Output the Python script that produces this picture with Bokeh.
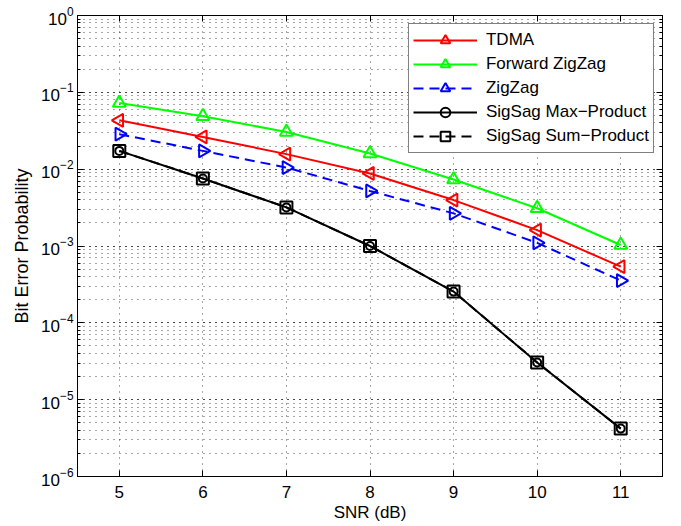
import math
from bokeh.plotting import figure
from bokeh.models import LogAxis, LinearAxis, FixedTicker, LogTicker, Range1d
from bokeh.embed import file_html
from bokeh.resources import INLINE

snr = [5, 6, 7, 8, 9, 10, 11]
tdma = [0.0433, 0.0263, 0.0157, 0.0088, 0.00396, 0.00161, 0.000538]
forward_zigzag = [0.0726, 0.0488, 0.0305, 0.016, 0.00735, 0.0031, 0.00103]
zigzag = [0.0285, 0.0173, 0.0105, 0.0052, 0.00266, 0.0011, 0.000355]
sigsag_max = [0.0173, 0.00757, 0.00318, 0.001, 0.000255, 3.05e-5, 4.2e-6]
sigsag_sum = [0.0173, 0.00757, 0.00318, 0.001, 0.000255, 3.05e-5, 4.2e-6]
x_ticks = [5, 6, 7, 8, 9, 10, 11]

FONT = "Liberation Sans"

p = figure(width=670, height=524, x_range=Range1d(4.5, 11.5), y_range=Range1d(1e-6, 1),
           y_axis_type="log", output_backend="svg", toolbar_location=None,
           min_border_left=77, min_border_right=8, min_border_top=15, min_border_bottom=47,
           background_fill_color="white", border_fill_color="white")

p.outline_line_color = "black"
p.outline_line_width = 1

# grids
p.xgrid.ticker = FixedTicker(ticks=x_ticks)
p.xgrid.grid_line_color = "black"
p.xgrid.grid_line_dash = "1 5"
p.xgrid.grid_line_alpha = 0.7
p.ygrid.grid_line_color = "black"
p.ygrid.grid_line_dash = "1 5"
p.ygrid.grid_line_alpha = 0.7
p.ygrid.minor_grid_line_color = "black"
p.ygrid.minor_grid_line_dash = "1 5"
p.ygrid.minor_grid_line_alpha = 0.7

def style_axis(ax, labels=True):
    ax.major_tick_in = 6
    ax.major_tick_out = 0
    ax.minor_tick_in = 3
    ax.minor_tick_out = 0
    ax.axis_line_color = "black"
    ax.major_tick_line_color = "black"
    ax.minor_tick_line_color = "black"
    ax.major_label_text_font = FONT
    ax.major_label_text_font_size = "17px"
    ax.major_label_text_color = "black"
    ax.axis_label_text_font = FONT
    ax.axis_label_text_font_size = "17px"
    ax.axis_label_text_font_style = "normal"
    ax.axis_label_text_color = "black"
    if not labels:
        ax.major_label_text_font_size = "1px"
        ax.major_label_text_alpha = 0
        ax.major_label_standoff = 0

xa = p.xaxis[0]
xa.ticker = FixedTicker(ticks=x_ticks)
xa.axis_label = "SNR (dB)"
xa.axis_label_standoff = 2
xa.major_label_standoff = 9
style_axis(xa)

ya = p.yaxis[0]
ya.ticker = LogTicker(num_minor_ticks=10)
ya.axis_label = "Bit Error Probability"
ya.major_label_standoff = 4
ya.axis_label_standoff = 6
style_axis(ya)
ya.axis_label_text_font_size = "18px"

top = LinearAxis(ticker=FixedTicker(ticks=x_ticks))
style_axis(top, labels=False)
p.add_layout(top, "above")
right = LogAxis(ticker=LogTicker(num_minor_ticks=10))
style_axis(right, labels=False)
p.add_layout(right, "right")

LW = 2
# TDMA
p.line(snr, tdma, color="red", line_width=LW, legend_label="TDMA")
p.scatter(snr, tdma, marker="triangle", angle=math.pi / 2, size=13, line_color="red",
          fill_color=None, line_width=LW, legend_label="TDMA")
# Forward ZigZag
p.line(snr, forward_zigzag, color="#00ff00", line_width=LW, legend_label="Forward ZigZag")
p.scatter(snr, forward_zigzag, marker="triangle", size=13, line_color="#00ff00",
          fill_color=None, line_width=LW, legend_label="Forward ZigZag")
# ZigZag
p.line(snr, zigzag, color="blue", line_width=LW, line_dash="10 6", legend_label="ZigZag")
p.scatter(snr, zigzag, marker="triangle", angle=-math.pi / 2, size=13, line_color="blue",
          fill_color=None, line_width=LW, legend_label="ZigZag")
# SigSag Max-Product
p.line(snr, sigsag_max, color="black", line_width=LW, legend_label="SigSag Max\u2212Product")
p.scatter(snr, sigsag_max, marker="circle", size=8, line_color="black",
          fill_color=None, line_width=LW, legend_label="SigSag Max\u2212Product")
# SigSag Sum-Product
p.line(snr, sigsag_sum, color="black", line_width=LW, line_dash="10 6",
       legend_label="SigSag Sum\u2212Product")
p.scatter(snr, sigsag_sum, marker="square", size=12, line_color="black",
          fill_color=None, line_width=LW, legend_label="SigSag Sum\u2212Product")

lg = p.legend[0]
lg.location = "top_right"
lg.margin = 8
lg.padding = 4
lg.spacing = 0
lg.glyph_width = 64
lg.glyph_height = 24
lg.label_height = 24
lg.label_standoff = 9
lg.label_text_font = FONT
lg.label_text_font_size = "17px"
lg.label_text_color = "black"
lg.border_line_color = "black"
lg.border_line_width = 1
lg.background_fill_color = "white"
lg.background_fill_alpha = 1

open("out.html", "w").write(file_html(p, INLINE))
